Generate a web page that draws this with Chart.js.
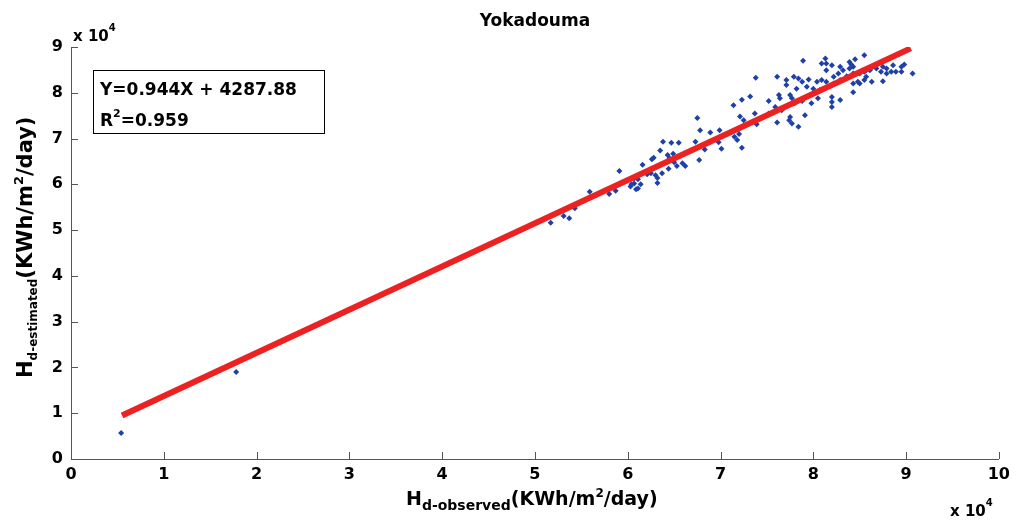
<!DOCTYPE html>
<html>
<head>
<meta charset="utf-8">
<title>Yokadouma</title>
<script src="https://cdn.jsdelivr.net/npm/chart.js@4.4.1/dist/chart.umd.min.js"></script>
<style>
    html, body { margin: 0; padding: 0; background: #fff; }
    #wrap { width: 1016px; height: 525px; position: relative; }
</style>
</head>
<body>
<div id="wrap"><canvas id="chart"></canvas></div>
<script>
// Values are in units of 10^4 KWh/m2/day (as on the axes)
const xObserved = [0.54, 1.78, 5.17, 5.31, 5.37, 5.43, 5.59, 5.80, 5.87, 5.91,
    6.03, 6.07, 6.09, 6.14, 6.11, 6.07, 6.11, 6.16, 6.21, 6.26,
    6.28, 6.25, 6.30, 6.32, 6.32, 6.35, 6.37, 6.38, 6.43, 6.45,
    6.44, 6.47, 6.49, 6.50, 6.53, 6.55, 6.59, 6.62, 6.73, 6.75,
    6.78, 6.77, 6.83, 6.89, 6.99, 6.98, 7.01, 7.14, 7.23, 7.32,
    7.38, 7.15, 7.20, 7.18, 7.23, 7.21, 7.25, 7.37, 7.39, 7.46,
    7.52, 7.52, 7.59, 7.61, 7.61, 7.63, 7.64, 7.66, 7.71, 7.71,
    7.75, 7.77, 7.74, 7.75, 7.77, 7.79, 7.80, 7.82, 7.84, 7.84,
    7.88, 7.88, 7.89, 7.91, 7.93, 7.95, 7.98, 8.00, 8.04, 8.05,
    8.07, 8.09, 8.09, 8.13, 8.14, 8.14, 8.14, 8.20, 8.20, 8.20,
    8.20, 8.22, 8.22, 8.27, 8.29, 8.29, 8.29, 8.32, 8.36, 8.39,
    8.39, 8.41, 8.43, 8.43, 8.43, 8.43, 8.45, 8.48, 8.50, 8.50,
    8.55, 8.55, 8.55, 8.57, 8.57, 8.61, 8.63, 8.63, 8.68, 8.73,
    8.75, 8.75, 8.79, 8.79, 8.84, 8.86, 8.89, 8.95, 8.95, 8.98,
    9.07, 6.04];
const yEstimated = [0.57, 1.90, 5.16, 5.31, 5.26, 5.48, 5.84, 5.79, 5.86, 6.29,
    5.95, 6.02, 5.89, 6.00, 6.11, 6.13, 5.91, 6.43, 6.22, 6.55,
    6.58, 6.24, 6.20, 6.03, 6.14, 6.74, 6.24, 6.93, 6.64, 6.57,
    6.34, 6.91, 6.67, 6.48, 6.40, 6.91, 6.46, 6.40, 6.93, 7.45,
    7.18, 6.53, 6.76, 7.13, 7.18, 6.92, 6.78, 7.73, 7.85, 7.92,
    8.33, 7.04, 7.10, 6.97, 6.80, 7.48, 7.40, 7.55, 7.31, 7.47,
    7.82, 7.55, 7.69, 8.35, 7.35, 7.95, 7.88, 7.62, 8.28, 8.17,
    7.95, 7.88, 7.40, 7.47, 7.33, 8.35, 7.77, 8.09, 8.31, 7.26,
    8.24, 7.82, 8.70, 7.51, 8.13, 8.29, 7.77, 8.09, 8.24, 7.88,
    8.06, 8.28, 8.64, 8.75, 8.64, 8.49, 8.24, 8.60, 7.91, 7.80,
    7.69, 8.35, 8.20, 8.42, 8.57, 8.28, 7.84, 8.49, 8.36, 8.67,
    8.53, 8.62, 8.57, 8.42, 8.20, 8.01, 8.73, 8.24, 8.42, 8.20,
    8.82, 8.46, 8.28, 8.49, 8.35, 8.49, 8.55, 8.24, 8.53, 8.46,
    8.57, 8.25, 8.53, 8.42, 8.46, 8.60, 8.46, 8.57, 8.46, 8.62,
    8.42, 6.00];

// Fitted line end points
const fitX = [0.55, 9.05];
const fitY = [0.95, 8.97];

const xTickValues = [0, 1, 2, 3, 4, 5, 6, 7, 8, 9, 10];
const yTickValues = [0, 1, 2, 3, 4, 5, 6, 7, 8, 9];

const chartTitle = 'Yokadouma';
const equationText = 'Y=0.944X + 4287.88';
const r2Value = '=0.959';
const FONT = '"DejaVu Sans", "Liberation Sans", sans-serif';

// Draw text made of parts (for subscripts / superscripts)
function drawRich(ctx, x, y, parts) {
    let cx = x;
    parts.forEach(p => {
        ctx.font = 'bold ' + p.size + 'px ' + FONT;
        ctx.fillText(p.text, cx, y + (p.dy || 0));
        cx += ctx.measureText(p.text).width;
    });
}

const overlayPlugin = {
    id: 'overlay',
    afterDraw(chart) {
        const { ctx, chartArea, scales } = chart;
        ctx.save();

        // Inward tick marks
        ctx.strokeStyle = '#555';
        ctx.lineWidth = 1;
        scales.x.ticks.forEach(t => {
            const px = Math.round(scales.x.getPixelForValue(t.value)) + 0.5;
            ctx.beginPath();
            ctx.moveTo(px, chartArea.bottom);
            ctx.lineTo(px, chartArea.bottom - 7);
            ctx.stroke();
        });
        scales.y.ticks.forEach(t => {
            const py = Math.round(scales.y.getPixelForValue(t.value)) + 0.5;
            ctx.beginPath();
            ctx.moveTo(chartArea.left, py);
            ctx.lineTo(chartArea.left + 7, py);
            ctx.stroke();
        });

        ctx.fillStyle = '#000';
        ctx.textBaseline = 'alphabetic';

        // Title
        ctx.textAlign = 'center';
        ctx.font = 'bold 17px ' + FONT;
        ctx.fillText(chartTitle, (chartArea.left + chartArea.right) / 2, 26);
        ctx.textAlign = 'left';

        // Exponent labels
        drawRich(ctx, 73, 41, [{ text: 'x 10', size: 15 }, { text: '4', size: 10, dy: -10 }]);
        drawRich(ctx, 950, 516, [{ text: 'x 10', size: 15 }, { text: '4', size: 10, dy: -10 }]);

        // Equation box
        ctx.fillStyle = '#fff';
        ctx.fillRect(93, 70, 231, 63);
        ctx.strokeStyle = '#000';
        ctx.strokeRect(93.5, 70.5, 231, 63);
        ctx.fillStyle = '#000';
        drawRich(ctx, 100, 95, [{ text: equationText, size: 17 }]);
        drawRich(ctx, 100, 126, [{ text: 'R', size: 17 }, { text: '2', size: 11, dy: -9 }, { text: r2Value, size: 17 }]);

        // X axis title
        drawRich(ctx, 406, 505, [
            { text: 'H', size: 19 },
            { text: 'd-observed', size: 14, dy: 5 },
            { text: '(KWh/m', size: 19 },
            { text: '2', size: 12, dy: -8 },
            { text: '/day)', size: 19 }
        ]);

        // Y axis title
        ctx.translate(32, 378);
        ctx.rotate(-Math.PI / 2);
        drawRich(ctx, 0, 0, [
            { text: 'H', size: 21 },
            { text: 'd-estimated', size: 12, dy: 5 },
            { text: '(KWh/m', size: 21 },
            { text: '2', size: 13, dy: -9 },
            { text: '/day)', size: 21 }
        ]);
        ctx.restore();
    }
};

function initializeChart() {
    const ctx = document.getElementById('chart');
    const tickFont = { family: FONT, size: 16, weight: 'bold' };

    new Chart(ctx, {
        type: 'scatter',
        data: {
            datasets: [{
                type: 'line',
                label: 'Fit',
                data: fitX.map((x, i) => ({ x: x, y: fitY[i] })),
                borderColor: '#ec2222',
                borderWidth: 6,
                pointRadius: 0,
                fill: false,
                tension: 0
            }, {
                label: 'Observed vs estimated',
                data: xObserved.map((x, i) => ({ x: x, y: yEstimated[i] })),
                pointStyle: 'rectRot',
                pointRadius: 3,
                pointBackgroundColor: '#1f40a6',
                pointBorderWidth: 0,
                showLine: false
            }]
        },
        options: {
            responsive: true,
            maintainAspectRatio: false,
            animation: false,
            layout: { padding: { top: 47, right: 13, left: 0, bottom: 0 } },
            plugins: {
                legend: { display: false },
                tooltip: { enabled: false }
            },
            scales: {
                x: {
                    type: 'linear',
                    min: 0,
                    max: 10,
                    afterBuildTicks: s => { s.ticks = xTickValues.map(v => ({ value: v })); },
                    afterFit: s => { s.height = 66; },
                    ticks: { color: '#000', font: tickFont, padding: 6, maxRotation: 0 },
                    grid: { drawOnChartArea: false, drawTicks: false },
                    border: { color: '#555', width: 1 }
                },
                y: {
                    type: 'linear',
                    min: 0,
                    max: 9,
                    afterBuildTicks: s => { s.ticks = yTickValues.map(v => ({ value: v })); },
                    afterFit: s => { s.width = 71; },
                    ticks: { color: '#000', font: tickFont, padding: 8 },
                    grid: { drawOnChartArea: false, drawTicks: false },
                    border: { color: '#555', width: 1 }
                }
            }
        },
        plugins: [overlayPlugin]
    });
}

document.addEventListener('DOMContentLoaded', initializeChart);
</script>
</body>
</html>
